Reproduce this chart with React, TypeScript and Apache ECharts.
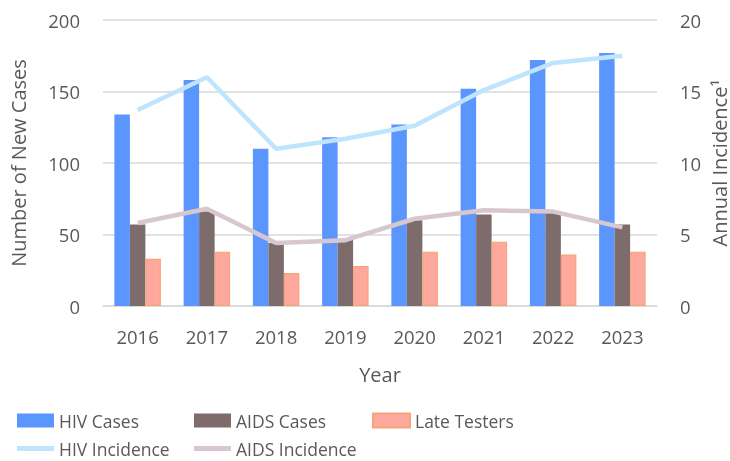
import React, { useEffect, useRef } from "react";
import * as echarts from "echarts";

const years = ["2016", "2017", "2018", "2019", "2020", "2021", "2022", "2023"];
const hivCases = [134, 158, 110, 118, 127, 152, 172, 177];
const aidsCases = [57, 66, 44, 47, 60, 64, 66, 57];
const lateTesters = [33, 38, 23, 28, 38, 45, 36, 38];
const hivIncidence = [13.7, 16.0, 11.0, 11.7, 12.6, 15.1, 17.0, 17.5];
const aidsIncidence = [5.8, 6.8, 4.4, 4.6, 6.1, 6.7, 6.6, 5.5];

const FONT = "Open Sans";
const TXT = "#595959";

export default function App() {
  const ref = useRef<HTMLDivElement>(null);
  useEffect(() => {
    if (!ref.current) return;
    const chart = echarts.init(ref.current, undefined, { renderer: "svg" });
    const legendText = { color: TXT, fontFamily: FONT, fontSize: 17.5, lineHeight: 19 };
    const mkLegend = (name: string, left: number, top: number, h: number) => ({
      data: [name],
      left,
      top,
      itemWidth: 37,
      itemHeight: h,
      icon: "rect",
      textStyle: legendText,
      selectedMode: false,
      padding: 0,
    });
    chart.setOption({
      animation: false,
      textStyle: { fontFamily: FONT },
      grid: {
        left: 103,
        right: 73,
        top: 20,
        bottom: 155,
        containLabel: false,
        outerBoundsMode: "none",
      },
      legend: [
        mkLegend("HIV Cases", 17, 411, 14),
        mkLegend("AIDS Cases", 194, 411, 14),
        mkLegend("Late Testers", 372, 411, 14),
        mkLegend("HIV Incidence", 17, 439, 5),
        mkLegend("AIDS Incidence", 194, 439, 5),
      ],
      xAxis: {
        type: "category",
        data: years,
        name: "Year",
        nameLocation: "middle",
        nameGap: 58,
        nameTextStyle: { color: TXT, fontFamily: FONT, fontSize: 20 },
        axisLine: { show: true, lineStyle: { color: "#D9D9D9", width: 1.5 } },
        axisTick: { show: false },
        axisLabel: { color: TXT, fontFamily: FONT, fontSize: 18.5, margin: 21 },
      },
      yAxis: [
        {
          type: "value",
          min: 0,
          max: 200,
          interval: 50,
          name: "Number of New Cases",
          nameLocation: "middle",
          nameGap: 75,
          nameTextStyle: { color: TXT, fontFamily: FONT, fontSize: 20 },
          axisLine: { show: false },
          axisTick: { show: false },
          axisLabel: { color: TXT, fontFamily: FONT, fontSize: 18.5, margin: 23 },
          splitLine: { lineStyle: { color: "#D9D9D9", width: 1.5 } },
        },
        {
          type: "value",
          min: 0,
          max: 20,
          interval: 5,
          position: "right",
          name: "Annual Incidence¹",
          nameLocation: "middle",
          nameGap: 52,
          nameMoveOverlap: false,
          nameTextStyle: { color: TXT, fontFamily: FONT, fontSize: 20 },
          axisLine: { show: false },
          axisTick: { show: false },
          axisLabel: { color: TXT, fontFamily: FONT, fontSize: 18.5, margin: 23 },
          splitLine: { show: false },
        },
      ],
      series: [
        {
          name: "HIV Cases",
          type: "bar",
          data: hivCases,
          barWidth: 15.5,
          barGap: "0%",
          itemStyle: { color: "#5B96FE" },
        },
        {
          name: "AIDS Cases",
          type: "bar",
          data: aidsCases,
          barWidth: 15.5,
          barGap: "0%",
          itemStyle: { color: "#7E6B6B" },
        },
        {
          name: "Late Testers",
          type: "bar",
          data: lateTesters,
          barWidth: 15.5,
          barGap: "0%",
          itemStyle: { color: "#FFA99E", borderColor: "#F4A47A", borderWidth: 1.2 },
        },
        {
          name: "HIV Incidence",
          type: "line",
          yAxisIndex: 1,
          data: hivIncidence,
          symbol: "none",
          lineStyle: { color: "#BEE5FD", width: 4.5 },
          itemStyle: { color: "#BEE5FD" },
        },
        {
          name: "AIDS Incidence",
          type: "line",
          yAxisIndex: 1,
          data: aidsIncidence,
          symbol: "none",
          lineStyle: { color: "#D9C7D0", width: 4.5 },
          itemStyle: { color: "#D9C7D0" },
        },
      ],
    });
    return () => chart.dispose();
  }, []);
  return <div ref={ref} style={{ width: 730, height: 461, position: "fixed", left: 0, top: 0 }} />;
}
